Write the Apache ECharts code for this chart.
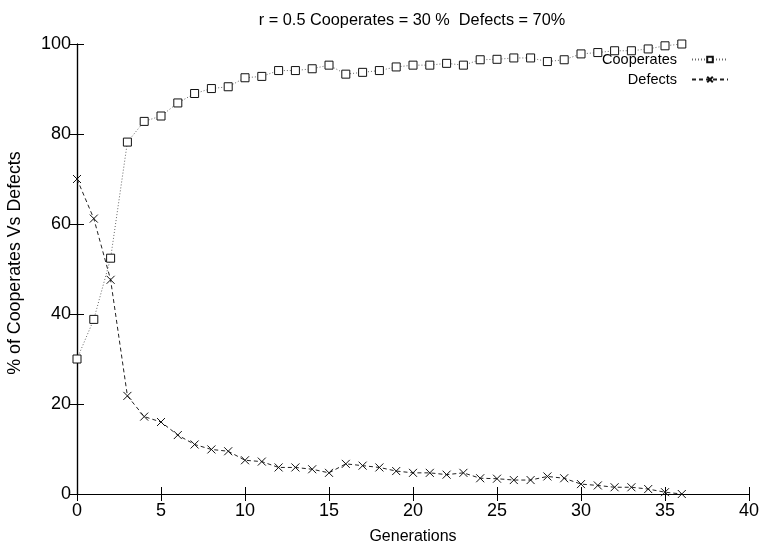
<!DOCTYPE html>
<html>
<head>
<meta charset="utf-8">
<script src="https://cdn.jsdelivr.net/npm/echarts@6/dist/echarts.min.js"></script>
<style>
  html, body { margin: 0; padding: 0; background: #fff; }
  #chart { width: 762px; height: 549px; }
</style>
</head>
<body>
<div id="chart"></div>
<script>
// Generation index on the x axis
const generations = [0,1,2,3,4,5,6,7,8,9,10,11,12,13,14,15,16,17,18,19,20,21,22,23,24,25,26,27,28,29,30,31,32,33,34,35,36];

// Share of cooperators (%) per generation
const cooperates = [30, 38.8, 52.4, 78.2, 82.8, 84.0, 86.9, 89.0, 90.1, 90.5, 92.5, 92.8, 94.1, 94.1, 94.5, 95.3,
  93.3, 93.7, 94.1, 94.9, 95.3, 95.3, 95.7, 95.3, 96.5, 96.6, 96.9, 96.9, 96.1, 96.5, 97.8, 98.1, 98.5, 98.5, 98.9, 99.6, 100];

// Share of defectors (%) per generation
const defects = [70, 61.2, 47.6, 21.8, 17.2, 16.0, 13.1, 11.0, 9.9, 9.5, 7.5, 7.2, 5.9, 5.9, 5.5, 4.7,
  6.7, 6.3, 5.9, 5.1, 4.7, 4.7, 4.3, 4.7, 3.5, 3.4, 3.1, 3.1, 3.9, 3.5, 2.2, 1.9, 1.5, 1.5, 1.1, 0.4, 0];

const xTicks = [0, 5, 10, 15, 20, 25, 30, 35, 40];
const yTicks = [0, 20, 40, 60, 80, 100];

const FONT = 'Liberation Sans, Arial, sans-serif';
const chart = echarts.init(document.getElementById('chart'), null, { renderer: 'canvas' });

const pairs = (ys) => generations.map((g, i) => [g, ys[i]]);
const crossPath = 'path://M0,0L10,10M10,0L0,10';

const baseX = {
  type: 'value', min: xTicks[0], max: xTicks[xTicks.length - 1], interval: 5,
  axisLine: { show: true, lineStyle: { color: '#000', width: 1.2 } },
  axisTick: { show: true, inside: true, length: 7, lineStyle: { color: '#000' } },
  splitLine: { show: false }
};
const baseY = {
  type: 'value', min: yTicks[0], max: yTicks[yTicks.length - 1], interval: 20,
  axisLine: { show: true, lineStyle: { color: '#000', width: 1.2 } },
  axisTick: { show: true, inside: true, length: 7, lineStyle: { color: '#000' } },
  splitLine: { show: false }
};

chart.setOption({
  animation: false,
  backgroundColor: '#fff',
  title: {
    text: 'r = 0.5 Cooperates = 30 %  Defects = 70%',
    left: 407, top: 8, textAlign: 'center',
    textStyle: { fontFamily: FONT, fontSize: 16.3, fontWeight: 'normal', color: '#000' }
  },
  legend: {
    orient: 'vertical', right: 28, top: 47, align: 'right',
    itemWidth: 36, itemHeight: 7, itemGap: 5,
    textStyle: { fontFamily: FONT, fontSize: 14.5, color: '#000', padding: [0, 10, 0, 0] },
    data: ['Cooperates', 'Defects']
  },
  grid: { left: 77, right: 13, top: 44, bottom: 55, containLabel: false, outerBoundsMode: 'none' },
  xAxis: [
    Object.assign({}, baseX, {
      position: 'bottom',
      name: 'Generations', nameLocation: 'middle', nameGap: 35,
      nameTextStyle: { fontFamily: FONT, fontSize: 16, color: '#000' },
      axisLabel: { fontFamily: FONT, fontSize: 18, color: '#000', margin: 8 }
    }),
    Object.assign({}, baseX, { position: 'top', axisLabel: { show: false } })
  ],
  yAxis: [
    Object.assign({}, baseY, {
      position: 'left',
      name: '% of Cooperates Vs Defects', nameLocation: 'middle', nameGap: 53,
      nameTextStyle: { fontFamily: FONT, fontSize: 17.8, color: '#000', padding: [0, 0, 0, 12] },
      axisLabel: { fontFamily: FONT, fontSize: 18, color: '#000', margin: 6 }
    }),
    Object.assign({}, baseY, { position: 'right', axisLabel: { show: false } })
  ],
  series: [
    {
      name: 'Cooperates', type: 'line', data: pairs(cooperates),
      symbol: 'rect', symbolSize: 8, showAllSymbol: true,
      lineStyle: { color: '#666', width: 1, type: [1, 2] },
      itemStyle: { color: '#fff', borderColor: '#111', borderWidth: 1 },
      z: 3
    },
    {
      name: 'Defects', type: 'line', data: pairs(defects),
      symbol: crossPath, symbolSize: 8, showAllSymbol: true,
      lineStyle: { color: '#222', width: 1, type: [4, 3] },
      itemStyle: { color: 'none', borderColor: '#111', borderWidth: 1 },
      z: 2
    }
  ]
});
</script>
</body>
</html>
